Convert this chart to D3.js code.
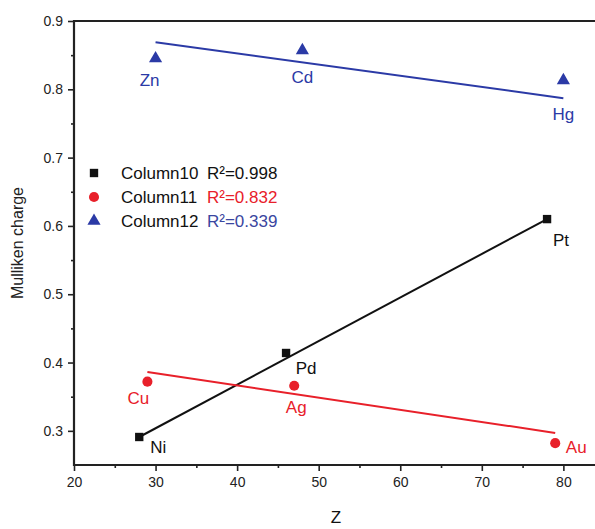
<!DOCTYPE html>
<html>
<head>
<meta charset="utf-8">
<script src="https://cdn.jsdelivr.net/npm/d3@7"></script>
<style>
  body { margin: 0; background: #fff; }
  svg { display: block; font-family: "Liberation Sans", Arial, sans-serif; }
</style>
</head>
<body>
<svg id="chart" width="595" height="529"></svg>
<script>
// element data
var elements = ["Ni", "Pd", "Pt", "Cu", "Ag", "Au", "Zn", "Cd", "Hg"];
var group = [0, 0, 0, 1, 1, 1, 2, 2, 2];
var zValues = [28, 46, 78, 29, 47, 79, 30, 48, 80];
var charges = [0.291, 0.414, 0.61, 0.372, 0.366, 0.282, 0.845, 0.857, 0.813];
// label offsets (dx, dy) from the marker, in px
var labelDx = [19, 20, 14, -9, 2, 21, -6, 0, 0];
var labelDy = [10, 15, 21, 16, 21, 4, 21, 27, 34];

// fitted lines, one per series
var seriesNames = ["Column10", "Column11", "Column12"];
var rSquared = ["R\u00B2=0.998", "R\u00B2=0.832", "R\u00B2=0.339"];
var fitX = [[28, 78], [29, 79], [30, 80]];
var fitY = [[0.291, 0.61], [0.386, 0.297], [0.869, 0.787]];
var colors = ["#111111", "#e8202a", "#2b3aa6"];
var rColors = ["#111111", "#e8202a", "#3a46a0"];

var xTicks = [20, 30, 40, 50, 60, 70, 80];
var yTicks = [0.3, 0.4, 0.5, 0.6, 0.7, 0.8, 0.9];

var svg = d3.select("#chart");
var mLeft = 74, mTop = 21, mBottom = 465, mRight = 596;

var x = d3.scaleLinear().domain([20, 84]).range([mLeft, mRight]);
var y = d3.scaleLinear().domain([0.25, 0.9]).range([mBottom, mTop]);

// frame (top + left + bottom, right side falls off the image)
svg.append("path")
  .attr("d", "M" + mRight + "," + mTop + "H" + mLeft + "V" + mBottom + "H" + mRight)
  .attr("fill", "none").attr("stroke", "#222").attr("stroke-width", 2.2);

// axes
svg.append("g").attr("transform", "translate(0," + mBottom + ")")
  .call(d3.axisBottom(x).tickValues(xTicks).tickSize(6).tickPadding(6).tickFormat(d3.format("d")));
svg.append("g").attr("transform", "translate(0," + mBottom + ")")
  .call(d3.axisBottom(x).tickValues(d3.range(25, 84, 10)).tickSize(3).tickFormat(""));
svg.append("g").attr("transform", "translate(" + mLeft + ",0)")
  .call(d3.axisLeft(y).tickValues(yTicks).tickSize(6).tickPadding(5).tickFormat(d3.format(".1f")));
svg.append("g").attr("transform", "translate(" + mLeft + ",0)")
  .call(d3.axisLeft(y).tickValues([0.35, 0.45, 0.55, 0.65, 0.75, 0.85]).tickSize(3).tickFormat(""));

svg.selectAll(".domain").remove();
svg.selectAll(".tick line").attr("stroke", "#222").attr("stroke-width", 1.6);
svg.selectAll(".tick text").attr("fill", "#222").style("font-size", "14px");

// axis titles
svg.append("text").attr("x", 336).attr("y", 523)
  .attr("text-anchor", "middle").style("font-size", "17px").attr("fill", "#111").text("Z");
svg.append("text").attr("transform", "translate(23,243)rotate(-90)")
  .attr("text-anchor", "middle").style("font-size", "16px").attr("fill", "#222").text("Mulliken charge");

// fit lines
svg.selectAll(".fit").data(fitX).enter().append("line")
  .attr("class", "fit")
  .attr("x1", function (d) { return x(d[0]); })
  .attr("x2", function (d) { return x(d[1]); })
  .attr("y1", function (d, i) { return y(fitY[i][0]); })
  .attr("y2", function (d, i) { return y(fitY[i][1]); })
  .attr("stroke", function (d, i) { return colors[i]; })
  .attr("stroke-width", 2);

var shapes = [d3.symbolSquare, d3.symbolCircle, d3.symbolTriangle];
var sizes = [70, 80, 75];
function marker(g, k) {
  g.append("path")
    .attr("d", d3.symbol().type(shapes[k]).size(sizes[k])())
    .attr("fill", colors[k]);
}

// points
var pts = svg.selectAll(".pt").data(elements).enter().append("g")
  .attr("class", "pt")
  .attr("transform", function (d, i) { return "translate(" + x(zValues[i]) + "," + y(charges[i]) + ")"; });
pts.each(function (d, i) { marker(d3.select(this), group[i]); });
pts.append("text")
  .attr("x", function (d, i) { return labelDx[i]; })
  .attr("y", function (d, i) { return labelDy[i]; })
  .attr("dy", "0.35em")
  .attr("text-anchor", "middle")
  .style("font-size", "17px")
  .attr("fill", function (d, i) { return colors[group[i]]; })
  .text(function (d) { return d; });

// legend
var leg = svg.selectAll(".leg").data(seriesNames).enter().append("g")
  .attr("class", "leg")
  .attr("transform", function (d, i) { return "translate(94," + (173 + i * 24) + ")"; });
leg.each(function (d, i) { marker(d3.select(this), i); });
leg.append("text").attr("x", 27).attr("dy", "0.35em")
  .style("font-size", "17px").attr("fill", "#111").text(function (d) { return d; });
leg.append("text").attr("x", 113).attr("dy", "0.35em")
  .style("font-size", "17px").attr("fill", function (d, i) { return rColors[i]; })
  .text(function (d, i) { return rSquared[i]; });
</script>
</body>
</html>
